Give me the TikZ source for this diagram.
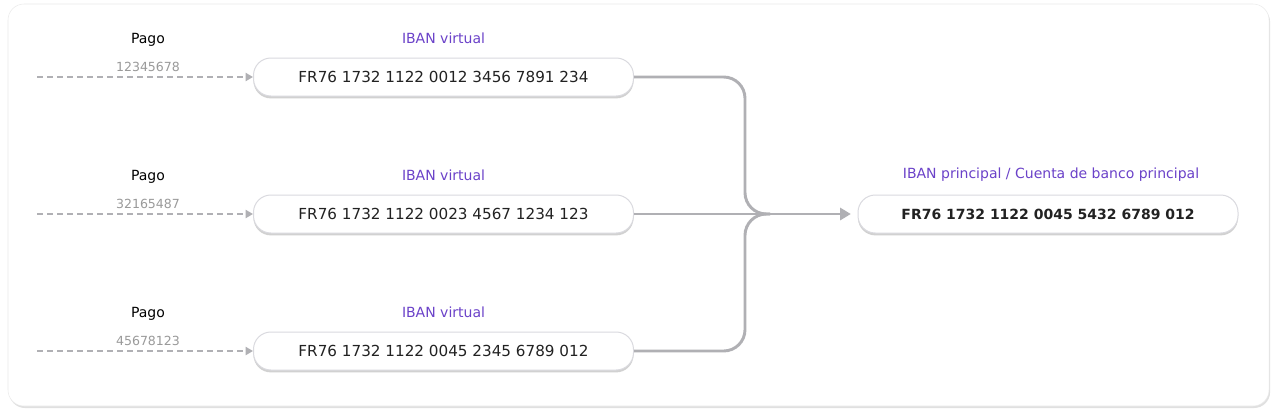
\documentclass[tikz,border=0pt]{standalone}
\usepackage{fontspec}
\setmainfont{DejaVu Sans}
\usetikzlibrary{arrows.meta,shadows}

\definecolor{ibanpurple}{HTML}{6B42C9}
\definecolor{linegray}{HTML}{B0B0B4}
\definecolor{numgray}{HTML}{9A9A9A}
\definecolor{boxborder}{HTML}{DADADF}
\definecolor{ibantext}{HTML}{222222}

\tikzset{
  ibanbox/.style={draw=boxborder, line width=0.75pt, fill=white, rounded corners=13pt,
    minimum width=285pt, minimum height=28.5pt, text=ibantext,
    font=\fontsize{11.4}{13}\selectfont,
    drop shadow={shadow xshift=0pt, shadow yshift=-1.8pt, opacity=0.4, fill=black!45}},
  tag/.style={text=ibanpurple, font=\fontsize{10.5}{12}\selectfont},
  payer/.style={font=\fontsize{10.5}{12}\selectfont},
  ref/.style={text=numgray, font=\fontsize{9.4}{11}\selectfont},
  payment/.style={draw=linegray, line width=1.5pt, dash pattern=on 4.5pt off 3pt,
    -{Triangle[length=5.5pt,width=6pt]}},
  flow/.style={draw=linegray, line width=2.2pt, rounded corners=16pt}
}

\begin{document}
\begin{tikzpicture}[x=0.75pt, y=-0.75pt]
    % Background
    \useasboundingbox (0,0) rectangle (1274,415);
    \fill[white] (0,0) rectangle (1274,415);
    \filldraw[draw=black!8, fill=white, rounded corners=12pt,
      drop shadow={shadow xshift=0.8pt, shadow yshift=-1.5pt, opacity=0.3, fill=black!40}]
      (8,4) rectangle (1269,406);

    % Virtual IBANs
    \foreach \i/\y/\num/\iban in {
        1/77/12345678/FR76 1732 1122 0012 3456 7891 234,
        2/214/32165487/FR76 1732 1122 0023 4567 1234 123,
        3/351/45678123/FR76 1732 1122 0045 2345 6789 012
    } {
        \node[ibanbox] (virt\i) at (443.5,\y) {\iban};
        \node[tag] (tag\i) at (443.5,\y-39) {IBAN virtual};
        \node[payer] (payer\i) at (148,\y-37) {Pago};
        \node[ref] (ref\i) at (148,\y-10) {\num};
        \coordinate (start\i) at (37,\y);
        \draw[payment] (start\i) -- (virt\i.west);
    }

    % Main IBAN
    \node[ibanbox, font=\fontsize{10.5}{12}\selectfont\bfseries] (main) at (1048,214)
      {FR76 1732 1122 0045 5432 6789 012};
    \node[tag] (maintag) at (1051,175) {IBAN principal / Cuenta de banco principal};

    % Merge into the main account
    \coordinate (bend) at (745,214);
    \coordinate (join) at (770,214);
    \draw[flow] (virt1.east) -- (virt1.east -| bend) -- (bend) -- (join);
    \draw[flow] (virt3.east) -- (virt3.east -| bend) -- (bend) -- (join);
    \draw[flow, -{Triangle[length=8pt,width=9pt]}, shorten >=5pt] (virt2.east) -- (main.west);
\end{tikzpicture}
\end{document}
